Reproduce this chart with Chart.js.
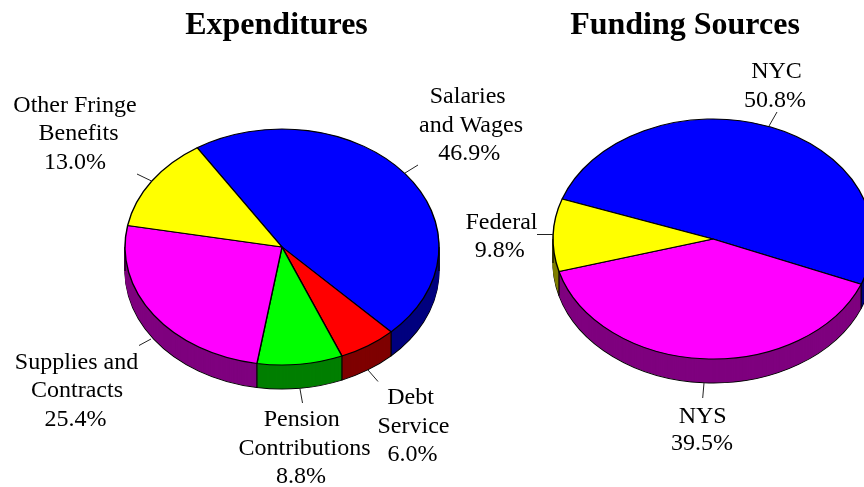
<!DOCTYPE html>
<html><head><meta charset="utf-8">
<style>html,body{margin:0;padding:0;background:#fff;width:864px;height:487px;overflow:hidden;position:relative}
canvas{position:absolute;display:block}</style>
<script src="https://cdn.jsdelivr.net/npm/chart.js@4/dist/chart.umd.min.js"></script>
</head><body>
<canvas id="left"></canvas><canvas id="right"></canvas>
<script>
// ---- data ----
const expenditureNames = ["Salaries and Wages","Debt Service","Pension Contributions","Supplies and Contracts","Other Fringe Benefits"];
const expenditureValues = [46.9,6.0,8.8,25.4,13.0];
const expenditureColors = ["#0000ff","#ff0000","#00ff00","#ff00ff","#ffff00"];
const expenditureDark = ["#00007f","#7f0000","#007f00","#7f007f","#7f7f00"];
const fundingNames = ["NYC","NYS","Federal"];
const fundingValues = [50.8,39.5,9.8];
const fundingColors = ["#0000ff","#ff00ff","#ffff00"];
const fundingDark = ["#00007f","#7f007f","#7f7f00"];

// ---- layout (page pixels) ----
const FONT='"Liberation Serif","Times New Roman",serif';
const expenditureLayout = {
  title:{text:"Expenditures",x:276.5,y:34}, cx:282, cy:247, r:157, ky:118/157, depth:24, rotation:-32.7,
  labels:[
   {lines:["Salaries","and Wages","46.9%"],x:[467.7,471,469.3],y:[102.5,132,160],lead:[405,173,418,165]},
   {lines:["Debt","Service","6.0%"],x:[410.5,413.5,412.5],y:[404,432.5,460.5],lead:[368,370,378,381.5]},
   {lines:["Pension","Contributions","8.8%"],x:[301.7,304.5,301],y:[426,455,483],lead:[300,389,302.5,403]},
   {lines:["Supplies and","Contracts","25.4%"],x:[76.5,77,75.5],y:[369,397,426],lead:[139,345.5,151,339]},
   {lines:["Other Fringe","Benefits","13.0%"],x:[75,78.5,75],y:[112,140,169],lead:[137,174,151.5,181]}
  ]};
const fundingLayout = {
  title:{text:"Funding Sources",x:685,y:34}, cx:713, cy:239, r:160, ky:120/160, depth:24, rotation:-70.5,
  labels:[
   {lines:["NYC","50.8%"],x:[776.5,775],y:[78,106.5],lead:[769,126,777,112]},
   {lines:["NYS","39.5%"],x:[702.7,702],y:[422.5,450],lead:[704,383,702.7,398]},
   {lines:["Federal","9.8%"],x:[501.5,499.7],y:[229,257],lead:[537,234.5,553,234.5]}
  ]};

const pie3d = {
  id:'pie3d',
  beforeDatasetsDraw(chart,args,o){
    const ctx=chart.ctx, arcs=chart.getDatasetMeta(0).data;
    const cx=arcs[0].x, cy=arcs[0].y, R=arcs[0].outerRadius;
    const put=(d)=>{ctx.translate(cx,cy+d);ctx.scale(1,o.ky);ctx.translate(-cx,-cy);};
    for(let d=o.depth;d>=1;d--){
      arcs.forEach((a,i)=>{
        ctx.save();put(d);
        const saved=a.options;
        a.options=Object.assign({},saved,{backgroundColor:o.dark[i],borderColor:d===o.depth?'#000':o.dark[i],borderWidth:d===o.depth?1.2:0.6});
        a.draw(ctx);
        a.options=saved;
        ctx.restore();
      });
    }
    ctx.save();ctx.strokeStyle='#000';ctx.lineWidth=1.2;
    const drop=(x,y)=>{ctx.beginPath();ctx.moveTo(x,y);ctx.lineTo(x,y+o.depth);ctx.stroke();};
    arcs.forEach(a=>{
      const s=Math.sin(a.startAngle);
      if(s>0)drop(cx+R*Math.cos(a.startAngle),cy+R*s*o.ky);
    });
    drop(cx-R,cy);drop(cx+R,cy);
    ctx.restore();
    ctx.save();put(0);
  },
  afterDatasetsDraw(chart,args,o){
    const ctx=chart.ctx;
    ctx.restore();
    ctx.save();
    ctx.translate(-o.left,0);
    ctx.fillStyle='#000';ctx.textAlign='center';ctx.textBaseline='alphabetic';
    ctx.font='bold 32px '+FONT;
    ctx.fillText(o.layout.title.text,o.layout.title.x,o.layout.title.y);
    ctx.font='24px '+FONT;
    o.layout.labels.forEach(l=>{
      l.lines.forEach((t,i)=>ctx.fillText(t,l.x[i],l.y[i]));
      ctx.strokeStyle='#222';ctx.lineWidth=1;
      ctx.beginPath();ctx.moveTo(l.lead[0],l.lead[1]);ctx.lineTo(l.lead[2],l.lead[3]);ctx.stroke();
    });
    ctx.restore();
  }
};

function makePie(id,names,values,colors,dark,layout){
  const c=document.getElementById(id);
  const left=layout.cx-432;
  c.width=864;c.height=layout.cy*2;
  c.style.width='864px';c.style.height=(layout.cy*2)+'px';
  c.style.left=left+'px';c.style.top='0px';
  return new Chart(c,{
    type:'pie',
    data:{labels:names,datasets:[{data:values,backgroundColor:colors,borderColor:'#000',borderWidth:1.4}]},
    options:{
      responsive:false,animation:false,devicePixelRatio:1,
      radius:layout.r,rotation:layout.rotation,
      layout:{padding:0},
      events:[],
      plugins:{legend:{display:false},tooltip:{enabled:false},
        pie3d:{ky:layout.ky,depth:layout.depth,dark:dark,layout:layout,left:left}}
    },
    plugins:[pie3d]
  });
}
makePie('left',expenditureNames,expenditureValues,expenditureColors,expenditureDark,expenditureLayout);
makePie('right',fundingNames,fundingValues,fundingColors,fundingDark,fundingLayout);
</script>
</body></html>
